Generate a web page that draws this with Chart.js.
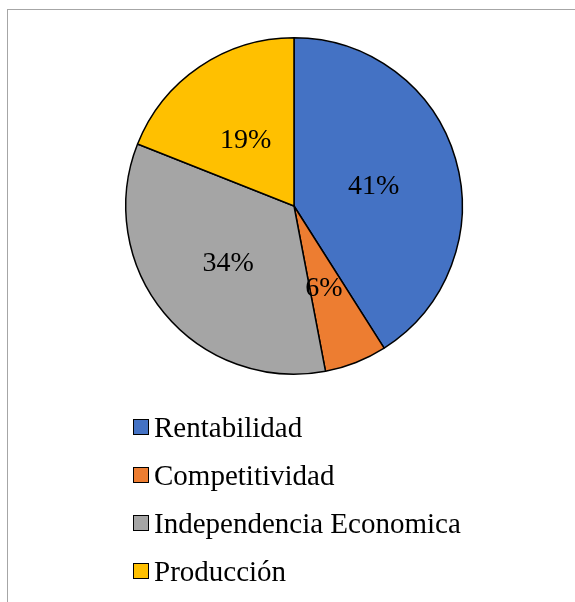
<!DOCTYPE html>
<html lang="es">
<head>
    <meta charset="UTF-8">
    <title>Pie chart</title>
    <script src="https://cdn.jsdelivr.net/npm/chart.js"></script>
    <style>
        body { margin: 0; background: #fff; }
        #wrap { position: relative; width: 575px; height: 602px; overflow: hidden; }
        #frame { position: absolute; left: 7px; top: 9px; width: 600px; height: 620px; border: 1px solid #a6a6a6; }
        #pie { position: absolute; left: 0; top: 0; }
        #legend { position: absolute; left: 133px; top: 403px; font-family: "Liberation Serif", "Times New Roman", serif; font-size: 29px; color: #000; }
        .item { display: flex; align-items: center; height: 48px; }
        .box { width: 14px; height: 14px; border: 1.5px solid #000; margin-right: 5px; }
    </style>
</head>
<body>
<div id="wrap">
    <div id="frame"></div>
    <canvas id="pie" width="575" height="602"></canvas>
    <div id="legend"></div>
</div>
<script>
    // values (percent)
    const categories = ['Rentabilidad', 'Competitividad', 'Independencia Economica', 'Producción'];
    const shares = [41, 6, 34, 19];
    const colors = ['#4472C4', '#ED7D31', '#A5A5A5', '#FFC000'];

    // percent labels in the middle of each slice
    const sliceLabels = {
        id: 'sliceLabels',
        afterDatasetsDraw(chart) {
            const ctx = chart.ctx;
            const data = chart.data.datasets[0].data;
            const total = data.reduce((a, b) => a + b, 0);
            ctx.save();
            ctx.font = '28px "Liberation Serif", "Times New Roman", serif';
            ctx.fillStyle = '#000';
            ctx.textAlign = 'center';
            ctx.textBaseline = 'middle';
            chart.getDatasetMeta(0).data.forEach((arc, i) => {
                const p = arc.tooltipPosition();
                ctx.fillText(Math.round(data[i] / total * 100) + '%', p.x - 1, p.y + 4);
            });
            ctx.restore();
        }
    };

    new Chart(document.getElementById('pie'), {
        type: 'pie',
        data: {
            labels: categories,
            datasets: [{
                data: shares,
                backgroundColor: colors,
                borderColor: '#000',
                borderWidth: 1.5
            }]
        },
        options: {
            responsive: false,
            animation: false,
            layout: { padding: { left: 125, right: 112, top: 37, bottom: 227 } },
            plugins: {
                legend: { display: false },
                tooltip: { enabled: false }
            }
        },
        plugins: [sliceLabels]
    });

    const legend = document.getElementById('legend');
    legend.innerHTML = categories.map((c, i) =>
        `<div class="item"><span class="box" style="background:${colors[i]}"></span>${c}</div>`
    ).join('');
</script>
</body>
</html>
